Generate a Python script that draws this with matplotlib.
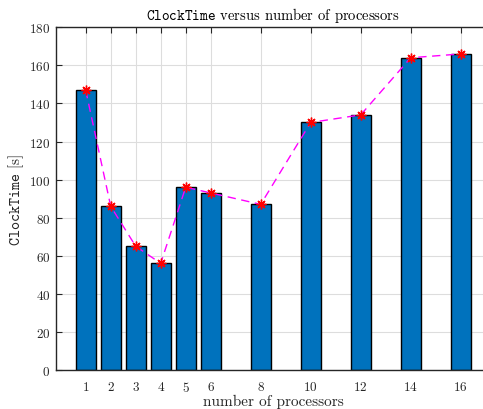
import matplotlib
matplotlib.use("Agg")
import matplotlib.pyplot as plt

processors = [1, 2, 3, 4, 5, 6, 8, 10, 12, 14, 16]
clock_time = [147, 86, 65, 56, 96, 93, 87, 130, 134, 164, 166]
yticks = [0, 20, 40, 60, 80, 100, 120, 140, 160, 180]

plt.rcParams['font.family'] = 'cmr10'
plt.rcParams['mathtext.fontset'] = 'cm'
plt.rcParams['axes.formatter.use_mathtext'] = True

fig = plt.figure(figsize=(4.83, 4.10), dpi=100)
ax = fig.add_axes([55.7/483, 1-371/410, (490.7-55.7)/483, (371-28.3)/410])

ax.bar(processors, clock_time, width=0.8, color='#0072BD', edgecolor='black', linewidth=1.0, zorder=2)
ax.plot(processors, clock_time, linestyle=(0, (6, 4)), color='magenta', linewidth=1.0, zorder=3)
ax.plot(processors, clock_time, linestyle='none', marker=(8, 2, 0), markersize=7, color='red', markeredgewidth=1.0, zorder=4)

ax.set_xlim(-0.2, 17.2)
ax.set_ylim(0, 180)
ax.set_xticks(processors)
ax.set_yticks(yticks)
ax.grid(True, color='#dddddd', linewidth=0.8, zorder=0)
ax.set_axisbelow(True)
for s in ax.spines.values():
    s.set_color('#262626')
    s.set_linewidth(1.0)
ax.tick_params(direction='in', top=True, right=True, length=4, labelsize=9.5, colors='#262626', labelcolor='#262626')
ax.tick_params(axis='x', pad=7)
ax.tick_params(axis='y', pad=4)

ax.set_title(r'$\mathtt{ClockTime}$ versus number of processors', fontsize=10.5, color='black', pad=6)
ax.set_xlabel('number of processors', fontsize=11, color='#262626', labelpad=0)
ax.set_ylabel(r'$\mathtt{ClockTime}$ [s]', fontsize=11, color='#262626', labelpad=2)

fig.savefig('out.png', dpi=100)
